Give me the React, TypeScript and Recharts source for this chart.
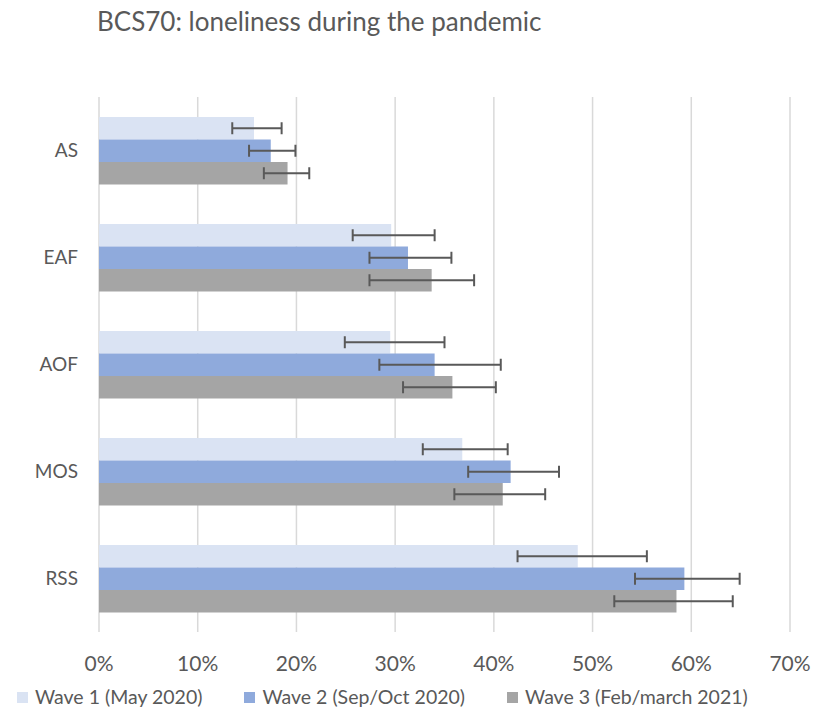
import React from 'react';
import { BarChart, Bar, XAxis, YAxis, CartesianGrid, ErrorBar } from 'recharts';

// ── Data (percent) ────────────────────────────────────────────────────────────

const CATEGORIES = ['AS', 'EAF', 'AOF', 'MOS', 'RSS'];

const WAVE1 = [15.7, 29.6, 29.5, 36.8, 48.5];
const WAVE1_LO = [13.5, 25.7, 24.9, 32.8, 42.4];
const WAVE1_HI = [18.5, 34.0, 35.0, 41.4, 55.5];

const WAVE2 = [17.4, 31.3, 34.0, 41.7, 59.3];
const WAVE2_LO = [15.2, 27.4, 28.4, 37.4, 54.3];
const WAVE2_HI = [19.9, 35.7, 40.7, 46.6, 64.9];

const WAVE3 = [19.1, 33.7, 35.8, 40.9, 58.5];
const WAVE3_LO = [16.7, 27.4, 30.8, 36.0, 52.2];
const WAVE3_HI = [21.3, 38.0, 40.2, 45.2, 64.2];

const X_TICKS = [0, 10, 20, 30, 40, 50, 60, 70];

const SERIES = [
  { key: 'w1', label: 'Wave 1 (May 2020)', colour: '#DAE3F3' },
  { key: 'w2', label: 'Wave 2 (Sep/Oct 2020)', colour: '#8FAADC' },
  { key: 'w3', label: 'Wave 3 (Feb/march 2021)', colour: '#A5A5A5' },
];

const data = CATEGORIES.map((name, i) => ({
  name,
  w1: WAVE1[i],
  w1Err: [WAVE1[i] - WAVE1_LO[i], WAVE1_HI[i] - WAVE1[i]],
  w2: WAVE2[i],
  w2Err: [WAVE2[i] - WAVE2_LO[i], WAVE2_HI[i] - WAVE2[i]],
  w3: WAVE3[i],
  w3Err: [WAVE3[i] - WAVE3_LO[i], WAVE3_HI[i] - WAVE3[i]],
}));

// ── Styles ────────────────────────────────────────────────────────────────────

const FONT = 'Lato, "Open Sans", sans-serif';
const TEXT_COLOUR = '#595959';

const X_TICK_STYLE = { fontSize: 21, fill: TEXT_COLOUR, fontFamily: FONT };
const Y_TICK_STYLE = { fontSize: 19, fill: TEXT_COLOUR, fontFamily: FONT };

export default function App() {
  return (
    <div
      style={{
        position: 'absolute',
        left: 0,
        top: 0,
        width: 815,
        height: 707,
        background: '#FFFFFF',
        fontFamily: FONT,
      }}
    >
      <div
        style={{
          position: 'absolute',
          left: 97,
          top: 5,
          fontSize: 26,
          color: TEXT_COLOUR,
          whiteSpace: 'nowrap',
        }}
      >
        BCS70: loneliness during the pandemic
      </div>

      <BarChart
        width={815}
        height={707}
        data={data}
        layout="vertical"
        barGap={0}
        barSize={22.5}
        margin={{ top: 97, right: 25, bottom: 0, left: 0 }}
      >
        <CartesianGrid
          horizontal={false}
          stroke="#D9D9D9"
          strokeWidth={1.5}
        />
        <XAxis
          type="number"
          domain={[0, 70]}
          ticks={X_TICKS}
          tickFormatter={(v: number) => `${v}%`}
          tick={X_TICK_STYLE}
          axisLine={false}
          tickLine={false}
          tickMargin={18}
          height={75}
          interval={0}
        />
        <YAxis
          type="category"
          dataKey="name"
          width={99}
          tick={Y_TICK_STYLE}
          axisLine={false}
          tickLine={false}
          tickMargin={15}
        />
        {SERIES.map((s) => (
          <Bar
            key={s.key}
            dataKey={s.key}
            name={s.label}
            fill={s.colour}
            isAnimationActive={false}
          >
            <ErrorBar
              dataKey={`${s.key}Err`}
              direction="x"
              width={6}
              stroke="#595959"
              strokeWidth={2}
              isAnimationActive={false}
            />
          </Bar>
        ))}
      </BarChart>

      <div
        style={{
          position: 'absolute',
          left: 17,
          top: 685,
          display: 'flex',
          alignItems: 'center',
          fontSize: 19.5,
          lineHeight: '24px',
          color: TEXT_COLOUR,
          whiteSpace: 'nowrap',
        }}
      >
        {SERIES.map((s, i) => (
          <div
            key={s.key}
            style={{
              display: 'flex',
              alignItems: 'center',
              marginLeft: i === 0 ? 0 : 42,
            }}
          >
            <span
              style={{
                display: 'inline-block',
                width: 11,
                height: 11,
                background: s.colour,
                marginRight: 7,
              }}
            />
            <span>{s.label}</span>
          </div>
        ))}
      </div>
    </div>
  );
}
